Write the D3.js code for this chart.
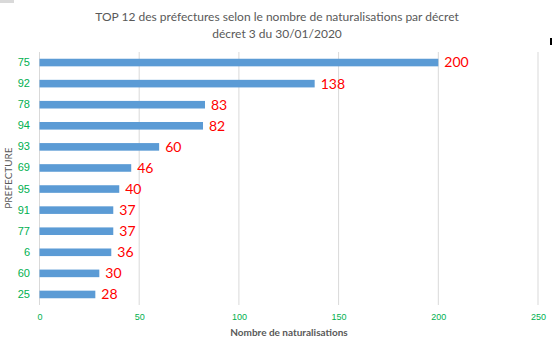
<!DOCTYPE html>
<html><head><meta charset="utf-8">
<script src="https://cdn.jsdelivr.net/npm/d3@7"></script>
<style>body{margin:0;background:#fff}svg{display:block;font-family:Lato,"Liberation Sans",sans-serif}</style>
</head><body>
<script>
const categories = ["75","92","78","94","93","69","95","91","77","6","60","25"];
const values = [200,138,83,82,60,46,40,37,37,36,30,28];
const xTicks = [0,50,100,150,200,250];
const titleLines = ["TOP 12 des préfectures selon le nombre de naturalisations par décret","décret 3 du 30/01/2020"];

const W=554,H=350;
const svg=d3.select("body").append("svg").attr("width",W).attr("height",H);
svg.append("rect").attr("x",0).attr("y",0).attr("width",14).attr("height",3).attr("fill","#d9d9d9");
svg.append("rect").attr("x",550).attr("y",38).attr("width",2).attr("height",7).attr("fill","#000");

const x=d3.scaleLinear().domain([0,250]).range([39.5,538]);
const y=d3.scaleBand().domain(categories).range([52,305]).paddingInner(0.64).paddingOuter(0.32);

svg.append("g").selectAll("line").data(xTicks).join("line")
  .attr("x1",d=>x(d)).attr("x2",d=>x(d)).attr("y1",52).attr("y2",305)
  .attr("stroke","#d9d9d9").attr("stroke-width",1);

const xa=svg.append("g").attr("transform","translate(0,305)")
  .call(d3.axisBottom(x).tickValues(xTicks).tickSize(0).tickPadding(9));
xa.select(".domain").remove();
xa.selectAll("text").attr("fill","#00B050").style("font-size","9px").style("font-family","inherit");

const ya=svg.append("g").attr("transform","translate(30,0)")
  .call(d3.axisLeft(y).tickSize(0).tickPadding(0));
ya.select(".domain").remove();
ya.selectAll("text").attr("fill","#00B050").style("font-size","11px").style("font-family","inherit");

svg.append("g").selectAll("rect").data(values).join("rect")
  .attr("x",x(0)).attr("y",(d,i)=>y(categories[i]))
  .attr("width",d=>x(d)-x(0)).attr("height",y.bandwidth())
  .attr("fill","#5B9BD5");

svg.append("g").selectAll("text").data(values).join("text")
  .attr("x",d=>x(d)+6).attr("y",(d,i)=>y(categories[i])+y.bandwidth()/2)
  .attr("dy","0.35em").attr("fill","#FF0000").style("font-size","14px").text(d=>d);

svg.append("g").selectAll("text").data(titleLines).join("text")
  .attr("x",277).attr("y",(d,i)=>21+i*17).attr("text-anchor","middle")
  .attr("fill","#595959").style("font-size","12px").text(d=>d);

svg.append("text").attr("x",289).attr("y",336).attr("text-anchor","middle")
  .attr("fill","#595959").style("font-size","10px").style("font-weight","bold").text("Nombre de naturalisations");

svg.append("text").attr("transform","translate(12,178) rotate(-90)").attr("text-anchor","middle")
  .attr("fill","#595959").style("font-size","10px").text("PREFECTURE");
</script>
</body></html>
